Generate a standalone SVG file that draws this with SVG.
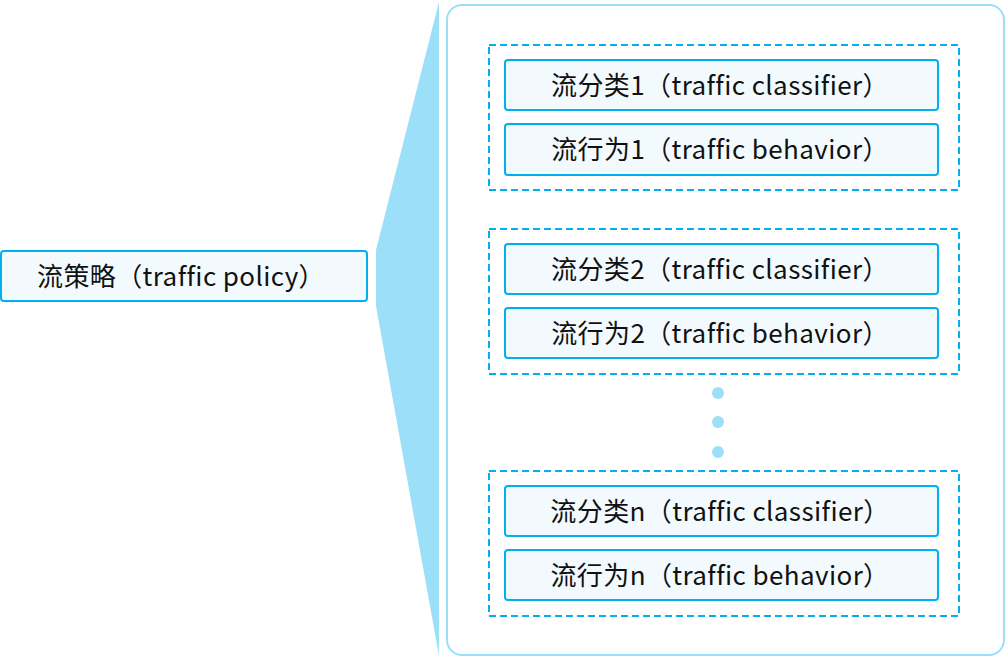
<svg xmlns="http://www.w3.org/2000/svg" width="1007" height="657" viewBox="0 0 1007 657">
<style>
.box{fill:#f3fafe;stroke:#00b0f0;stroke-width:2}
.grp{fill:none;stroke:#00b0f0;stroke-width:2;stroke-dasharray:7,4}
.t{font-family:"Noto Sans CJK SC","Noto Sans",sans-serif;font-size:26px;fill:#111;text-anchor:middle;letter-spacing:0.4px}
.dot{fill:#9bdff8}
</style>
<rect width="1007" height="657" fill="#fff"/>
<g id="policy">
<rect class="box" x="1" y="251" width="366" height="50" rx="3"/>
<text class="t" x="181" y="286">流策略（traffic policy）</text>
</g>
<g id="connectors">
<polygon points="439,2 376,250 376,306 439,656" fill="#9bdff8"/>
</g>
<g id="container">
<rect x="447" y="5" width="557" height="650" rx="15" fill="none" stroke="#9bdff8" stroke-width="2"/>
</g>
<g id="group1">
<rect class="grp" x="489" y="45" width="470" height="145"/>
<rect class="box" x="505" y="60" width="433" height="50" rx="3"/>
<text class="t" x="720" y="95">流分类1（traffic classifier）</text>
<rect class="box" x="505" y="124" width="433" height="51" rx="3"/>
<text class="t" x="720" y="159">流行为1（traffic behavior）</text>
</g>
<g id="group2">
<rect class="grp" x="489" y="229" width="470" height="145"/>
<rect class="box" x="505" y="244" width="433" height="50" rx="3"/>
<text class="t" x="720" y="279">流分类2（traffic classifier）</text>
<rect class="box" x="505" y="308" width="433" height="50" rx="3"/>
<text class="t" x="720" y="343">流行为2（traffic behavior）</text>
</g>
<g id="ellipsis">
<circle class="dot" cx="718" cy="393" r="6"/>
<circle class="dot" cx="718" cy="422" r="6"/>
<circle class="dot" cx="718" cy="452" r="6"/>
</g>
<g id="groupn">
<rect class="grp" x="489" y="471" width="470" height="145"/>
<rect class="box" x="505" y="486" width="433" height="50" rx="3"/>
<text class="t" x="720" y="521">流分类n（traffic classifier）</text>
<rect class="box" x="505" y="550" width="433" height="50" rx="3"/>
<text class="t" x="720" y="585">流行为n（traffic behavior）</text>
</g>
</svg>
